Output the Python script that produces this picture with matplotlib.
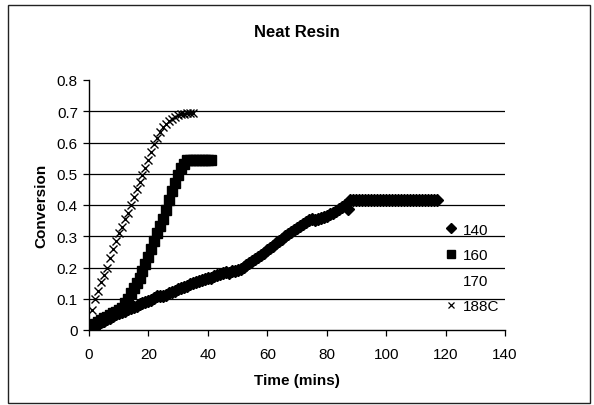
import matplotlib
matplotlib.use("Agg")
import matplotlib.pyplot as plt
from matplotlib.lines import Line2D
from matplotlib.patches import Rectangle

plt.rcParams["font.family"] = ["Liberation Sans", "DejaVu Sans"]

# 140 series: one reading per minute, then the plateau
t_140 = list(range(0, 118))
c_140 = [0.000, 0.008, 0.015, 0.020, 0.026, 0.030, 0.035, 0.040, 0.045, 0.050,
         0.054, 0.058, 0.062, 0.066, 0.070, 0.074, 0.078, 0.082, 0.086, 0.089,
         0.093, 0.097, 0.103, 0.108, 0.110, 0.108, 0.112, 0.118, 0.122, 0.126,
         0.130, 0.133, 0.138, 0.142, 0.146, 0.150, 0.154, 0.158, 0.160, 0.163,
         0.166, 0.168, 0.172, 0.176, 0.180, 0.183, 0.186, 0.184, 0.188, 0.190,
         0.192, 0.196, 0.202, 0.208, 0.214, 0.220, 0.227, 0.234, 0.241, 0.248,
         0.255, 0.262, 0.270, 0.278, 0.285, 0.292, 0.300, 0.307, 0.314, 0.320,
         0.327, 0.333, 0.340, 0.346, 0.352, 0.356, 0.352, 0.356, 0.360, 0.362,
         0.366, 0.370, 0.376, 0.382, 0.388, 0.395, 0.400, 0.386,
         0.415, 0.415, 0.415, 0.415, 0.415, 0.415, 0.415, 0.415, 0.415, 0.415,
         0.415, 0.415, 0.415, 0.415, 0.415, 0.415, 0.415, 0.415, 0.415, 0.415,
         0.415, 0.415, 0.415, 0.415, 0.415, 0.415, 0.415, 0.415, 0.415, 0.415]

t_160 = list(range(0, 42))
c_160 = [0.000, 0.010, 0.018, 0.025, 0.032, 0.038, 0.043, 0.048, 0.053, 0.058,
         0.064, 0.072, 0.085, 0.100, 0.118, 0.135, 0.152, 0.168, 0.188, 0.210,
         0.235, 0.260, 0.285, 0.310, 0.333, 0.355, 0.385, 0.415, 0.445, 0.470,
         0.495, 0.520, 0.532, 0.545, 0.545, 0.545, 0.545, 0.545, 0.545, 0.545,
         0.545, 0.545]

t_170 = []
c_170 = []

t_188 = list(range(0, 36))
c_188 = [0.000, 0.065, 0.100, 0.125, 0.155, 0.175, 0.200, 0.230, 0.260, 0.285,
         0.310, 0.330, 0.355, 0.375, 0.400, 0.425, 0.450, 0.475, 0.495, 0.520,
         0.545, 0.570, 0.595, 0.615, 0.635, 0.650, 0.660, 0.670, 0.675, 0.680,
         0.688, 0.690, 0.692, 0.693, 0.694, 0.694]

fig = plt.figure(figsize=(5.94, 4.06), dpi=100)
fig.patches.append(Rectangle((8 / 594, 2 / 406), 582 / 594, 398 / 406,
                             transform=fig.transFigure, fill=False,
                             edgecolor="#222222", linewidth=1.0))
ax = fig.add_axes([89 / 594, 1 - 331 / 406, 416 / 594, 250 / 406])

ax.plot(t_140, c_140, linestyle="none", marker="D", markersize=6,
        color="black", label="140")
ax.plot(t_160, c_160, linestyle="none", marker="s", markersize=7,
        color="black", label="160")
ax.plot(t_170, c_170, linestyle="none", marker="none", color="black", label="170")
ax.plot(t_188, c_188, linestyle="none", marker="x", markersize=6,
        markeredgewidth=1.0, color="black", label="188C")

ax.set_xlim(0, 140)
ax.set_ylim(0, 0.8)
ax.set_xticks(range(0, 141, 20))
ax.set_yticks([0, 0.1, 0.2, 0.3, 0.4, 0.5, 0.6, 0.7, 0.8])
ax.set_yticklabels(["0", "0.1", "0.2", "0.3", "0.4", "0.5", "0.6", "0.7", "0.8"])
for y in [0.1, 0.2, 0.3, 0.4, 0.5, 0.6, 0.7]:
    ax.axhline(y, color="black", linewidth=0.9, zorder=0)

for s in ["top", "right"]:
    ax.spines[s].set_visible(False)
ax.spines["left"].set_linewidth(1.0)
ax.spines["bottom"].set_linewidth(1.0)
ax.tick_params(axis="both", direction="out", length=4, width=0.9,
               labelsize=11, pad=4)
ax.tick_params(axis="x", pad=8)

ax.set_title("Neat Resin", fontsize=12, fontweight="bold", pad=32)
ax.set_xlabel("Time (mins)", fontsize=11, fontweight="bold", labelpad=9)
ax.set_ylabel("Conversion", fontsize=11, fontweight="bold", labelpad=6)

handles = [Line2D([], [], linestyle="none", marker="D", markersize=5, color="black"),
           Line2D([], [], linestyle="none", marker="s", markersize=5.5, color="black"),
           Line2D([], [], linestyle="none", marker="none", color="black"),
           Line2D([], [], linestyle="none", marker="x", markersize=5,
                  markeredgewidth=0.9, color="black")]
fig.legend(handles, ["140", "160", "170", "188C"], loc="center left",
           bbox_to_anchor=(446 / 594, 1 - 269 / 406), frameon=False,
           fontsize=11, handlelength=0.6, handletextpad=0.5, labelspacing=0.75,
           borderaxespad=0, borderpad=0)

fig.savefig("out.png", dpi=100)
